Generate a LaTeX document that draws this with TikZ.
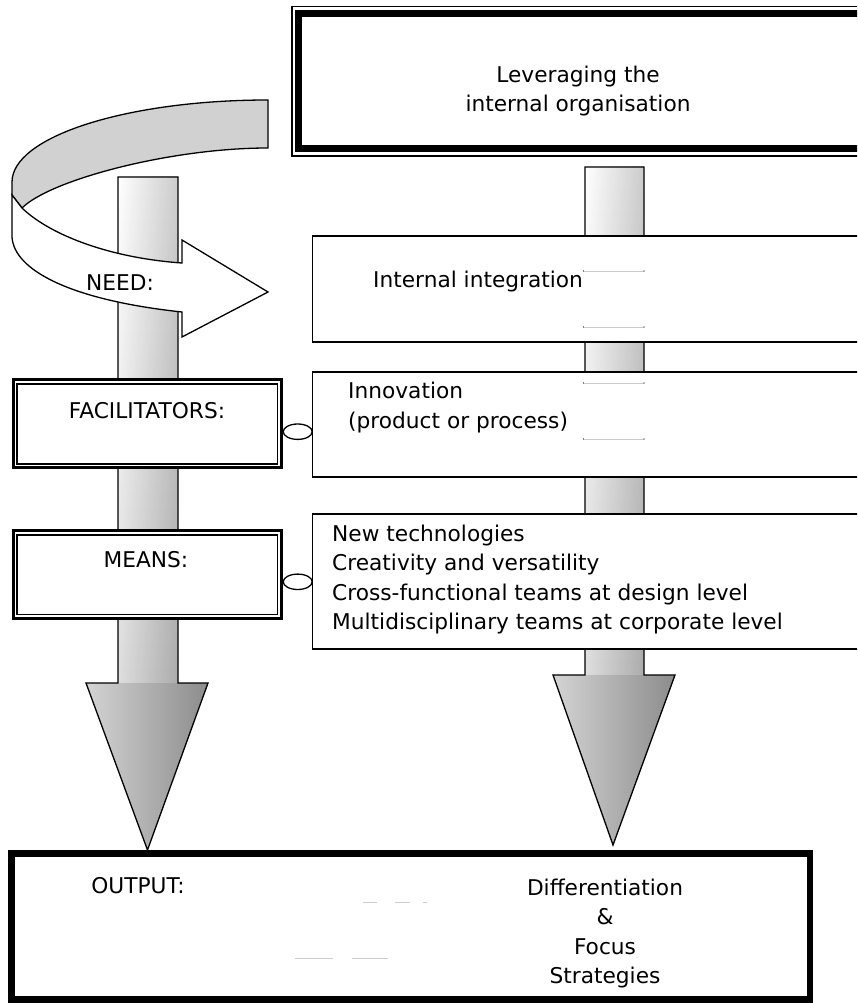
\documentclass[tikz,border=0pt]{standalone}
\usepackage{fontspec}
\setmainfont{DejaVu Sans}
\definecolor{shTop}{gray}{1.0}
\definecolor{shBot}{gray}{0.84}
\definecolor{hdL}{gray}{0.83}
\definecolor{hdR}{gray}{0.55}
\definecolor{band}{gray}{0.82}
\definecolor{ghostc}{gray}{0.80}
\begin{document}
\begin{tikzpicture}[x=1pt,y=-1pt,line join=miter,
  lbl/.style={font=\fontsize{21.7}{29.5}\selectfont, inner sep=0pt, text=black},
  frame/.style={draw=black, line width=1.3pt},
  ghost/.style={draw=ghostc, line width=0.8pt},
  dbox/.style={draw=black, line width=3pt, fill=white},
  dboxin/.style={draw=black, line width=1.5pt},
  thickbox/.style={draw=black, line width=6.5pt, fill=white},
  shaftshade/.style={top color=shTop, bottom color=shBot},
  sideshade/.style={left color=white, right color=black, fill opacity=0.2},
  headshade/.style={left color=hdL, right color=hdR},
]
\useasboundingbox (0,0) rectangle (857,1003);
\begin{scope}
\clip (0,0) rectangle (857,1003);

% ---------- left vertical arrow ----------
\shade[shaftshade] (118,177) rectangle (178,684);
\shade[sideshade] (118,177) rectangle (178,684);
\shade[headshade] (86,683) -- (208,683) -- (147.5,850) -- cycle;
\draw[frame] (118,177) -- (178,177) -- (178,683) -- (208,683) -- (147.5,850)
   -- (86,683) -- (118,683) -- cycle;

% ---------- right vertical arrow ----------
\shade[shaftshade] (585,167) rectangle (644,676);
\shade[sideshade] (585,167) rectangle (644,676);
\shade[headshade] (553,675) -- (675,675) -- (613,845) -- cycle;
\draw[frame] (585,167) -- (644,167) -- (644,675) -- (675,675) -- (613,845)
   -- (553,675) -- (585,675) -- cycle;

% ---------- curved ribbon arrow ----------
\draw[frame, fill=band] (268,100) .. controls (126.7,100) and (12,136.7) .. (12,182)
   -- (12,195) -- (22,208) .. controls (50,180) and (170,148) .. (268,148) -- cycle;
\draw[frame, fill=white] (22,208) .. controls (50,235) and (110,258) .. (182,263)
   -- (182,240) -- (268,292) -- (182,337) -- (182,312)
   .. controls (70,300) and (14,270) .. (12,237) -- (12,195) -- cycle;

% ---------- top box ----------
\draw[black, line width=1.2pt] (292,6.7) rectangle (890,156);
\draw[black, line width=6.5pt] (298.3,13.3) rectangle (885,148.3);

% ---------- right boxes ----------
\draw[frame, fill=white] (312.5,236) rectangle (890,342);
\draw[frame, fill=white] (312.5,372) rectangle (890,477);
\draw[frame, fill=white] (312.5,514) rectangle (890,649);

% ghost lines inside right boxes
\foreach \yy in {271,327,383,439}{
  \draw[ghost] (583.5,\yy) -- (644,\yy);
  \fill[black] (583.5,\yy) circle (0.6);
  \fill[black] (644,\yy) circle (0.6);
}

% ---------- left double boxes ----------
\draw[dbox] (13.3,379) rectangle (281.5,467.6);
\draw[dboxin] (17,384) rectangle (277.6,463.9);
\draw[dbox] (13.3,530) rectangle (281.5,618.4);
\draw[dboxin] (17,535) rectangle (277.6,614.6);

% ---------- small ellipse connectors ----------
\draw[frame, fill=white] (297.7,431.7) ellipse [x radius=14.5, y radius=7.7];
\draw[frame, fill=white] (297.7,581.8) ellipse [x radius=14.5, y radius=7.7];

% ---------- output box ----------
\draw[thickbox] (11.7,853.3) rectangle (810,999.5);
\draw[ghost, line width=1.2pt] (363,902.3) -- (377,902.3);
\draw[ghost, line width=1.2pt] (395,902.3) -- (410,902.3);
\draw[ghost, line width=1.2pt] (423,902.3) -- (427,902.3);
\draw[ghost, line width=1.2pt] (295,958.3) -- (333,958.3);
\draw[ghost, line width=1.2pt] (352,958.3) -- (388,958.3);

% ---------- texts ----------
\node[lbl, anchor=base] (lev1) at (578,83) {Leveraging the};
\node[lbl, anchor=base] (lev2) at (578,112) {internal organisation};
\node[lbl, anchor=base] (need) at (120,290) {NEED:};
\node[lbl, anchor=base west] (intint) at (373,287) {Internal integration};
\node[lbl, anchor=base west] (innov1) at (348,398) {Innovation};
\node[lbl, anchor=base west] (innov2) at (348,428) {(product or process)};
\node[lbl, anchor=base] (facil) at (147,418) {FACILITATORS:};
\node[lbl, anchor=base] (means) at (146,567) {MEANS:};
\node[lbl, anchor=base west] (m1) at (332,541) {New technologies};
\node[lbl, anchor=base west] (m2) at (332,570.5) {Creativity and versatility};
\node[lbl, anchor=base west] (m3) at (332,600) {Cross-functional teams at design level};
\node[lbl, anchor=base west] (m4) at (332,629.5) {Multidisciplinary teams at corporate level};
\node[lbl, anchor=base] (out) at (138,893) {OUTPUT:};
\node[lbl, anchor=base] (d1) at (605,895) {Differentiation};
\node[lbl, anchor=base] (d2) at (605,924.5) {\&};
\node[lbl, anchor=base] (d3) at (605,954) {Focus};
\node[lbl, anchor=base] (d4) at (605,983.5) {Strategies};
\end{scope}
\end{tikzpicture}
\end{document}
